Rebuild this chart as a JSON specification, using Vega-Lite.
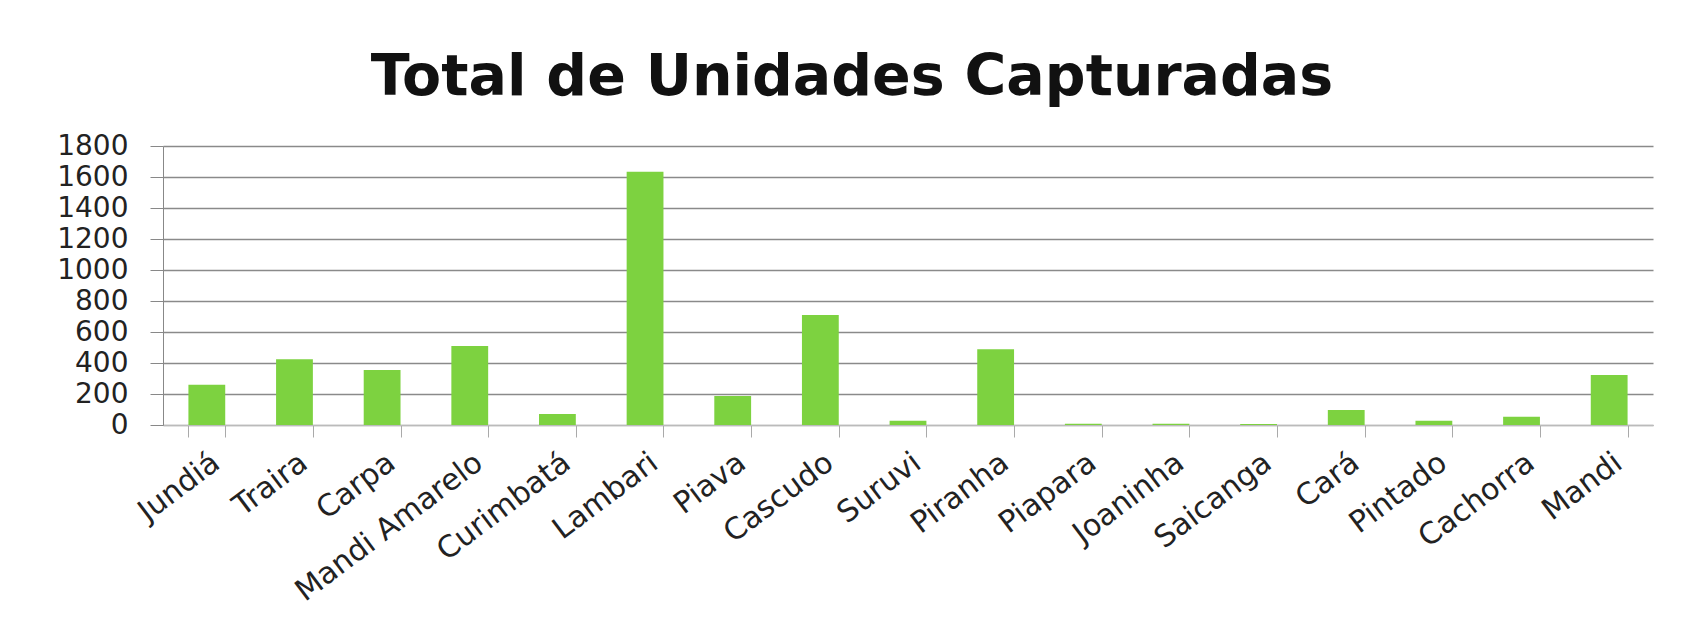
{
  "$schema": "https://vega.github.io/schema/vega-lite/v6.json",
  "autosize": {"type": "none"},
  "width": 1490,
  "height": 279,
  "padding": {"left": 163, "top": 146, "right": 47, "bottom": 212},
  "background": "white",
  "title": {
    "text": "Total de Unidades Capturadas",
    "font": "DejaVu Sans",
    "fontSize": 57,
    "fontWeight": "bold",
    "color": "#111111",
    "anchor": "middle",
    "dx": -56,
    "dy": 76,
    "offset": 56,
    "baseline": "alphabetic"
  },
  "data": {
    "values": [
      {"especie": "Jundiá", "total": 260},
      {"especie": "Traira", "total": 425},
      {"especie": "Carpa", "total": 355},
      {"especie": "Mandi Amarelo", "total": 510},
      {"especie": "Curimbatá", "total": 71},
      {"especie": "Lambari", "total": 1634},
      {"especie": "Piava", "total": 187},
      {"especie": "Cascudo", "total": 710},
      {"especie": "Suruvi", "total": 28},
      {"especie": "Piranha", "total": 488},
      {"especie": "Piapara", "total": 8},
      {"especie": "Joaninha", "total": 8},
      {"especie": "Saicanga", "total": 6},
      {"especie": "Cará", "total": 97},
      {"especie": "Pintado", "total": 28},
      {"especie": "Cachorra", "total": 54},
      {"especie": "Mandi", "total": 323}
    ]
  },
  "mark": {"type": "bar", "color": "#7DD240"},
  "encoding": {
    "x": {
      "field": "especie",
      "type": "nominal",
      "sort": null,
      "title": null,
      "scale": {"paddingInner": 0.58, "paddingOuter": 0.29},
      "axis": {
        "labelAngle": -37,
        "labelAlign": "right",
        "labelBaseline": "top",
        "labelFont": "DejaVu Sans",
        "labelFontSize": 30,
        "labelColor": "#222222",
        "labelPadding": 10,
        "labelLimit": 0,
        "tickBand": "extent",
        "tickSize": 12,
        "tickColor": "#aaaaaa",
        "domainColor": "#bbbbbb",
        "grid": false,
        "labelOverlap": false
      }
    },
    "y": {
      "field": "total",
      "type": "quantitative",
      "title": null,
      "scale": {"domain": [0, 1800], "nice": false},
      "axis": {
        "values": [0, 200, 400, 600, 800, 1000, 1200, 1400, 1600, 1800],
        "format": "d",
        "labelFont": "DejaVu Sans",
        "labelFontSize": 28,
        "labelColor": "#222222",
        "labelPadding": 22,
        "tickSize": 13,
        "tickColor": "#888888",
        "domainColor": "#888888",
        "grid": true,
        "gridColor": "#8a8a8a",
        "gridWidth": 1.5
      }
    }
  },
  "config": {"view": {"stroke": null}}
}
